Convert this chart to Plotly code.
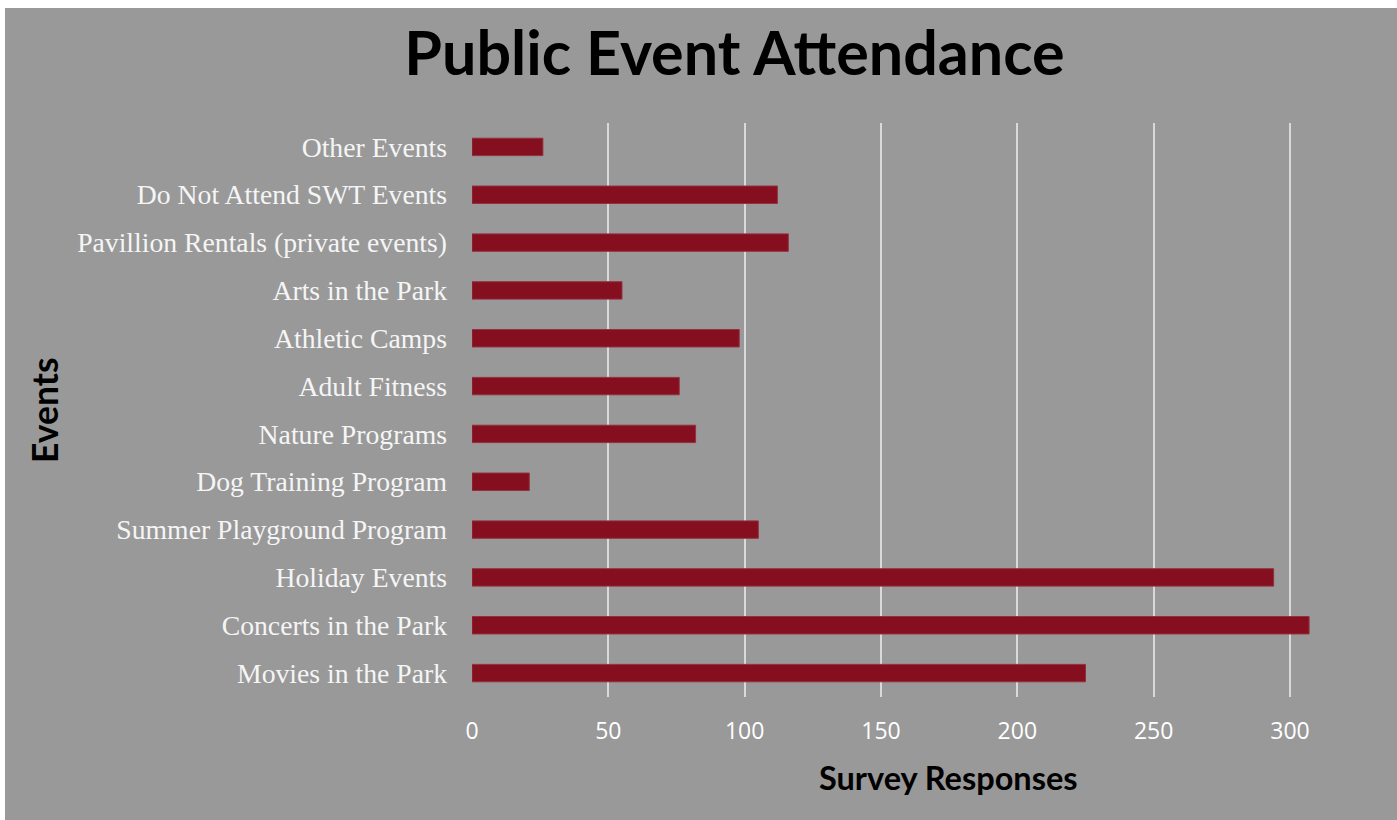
import plotly.graph_objects as go

categories = [
    "Movies in the Park",
    "Concerts in the Park",
    "Holiday Events",
    "Summer Playground Program",
    "Dog Training Program",
    "Nature Programs",
    "Adult Fitness",
    "Athletic Camps",
    "Arts in the Park",
    "Pavillion Rentals (private events)",
    "Do Not Attend SWT Events",
    "Other Events",
]
responses = [225, 307, 294, 105, 21, 82, 76, 98, 55, 116, 112, 26]
x_ticks = [0, 50, 100, 150, 200, 250, 300]

W, H = 1397, 820
L, R, T, B = 472, 77, 123, 123
XMAX = 311
pw = W - L - R
ph = H - T - B

BG = "#999999"
BAR = "#850e1f"

fig = go.Figure(
    go.Bar(
        x=responses,
        y=categories,
        orientation="h",
        marker=dict(color=BAR, line=dict(color="#93303e", width=1)),
        hoverinfo="x+y",
    )
)

def px_x(p):
    return (p - L) / pw

def px_y(p):
    return (H - B - p) / ph

fig.update_layout(
    width=W,
    height=H,
    margin=dict(l=L, r=R, t=T, b=B),
    paper_bgcolor=BG,
    plot_bgcolor=BG,
    bargap=0.636,
    showlegend=False,
    title=dict(
        text="<b>Public Event Attendance</b>",
        font=dict(family="Lato", size=61, color="#000000"),
        x=px_x(734.5), xref="paper", xanchor="center",
        y=1 - 54 / H, yref="container", yanchor="middle",
    ),
    xaxis=dict(
        range=[0, XMAX],
        tickvals=x_ticks,
        ticktext=[str(v) for v in x_ticks],
        showgrid=True,
        gridcolor="#d9d9d9",
        gridwidth=2,
        zeroline=False,
        showline=False,
        ticks="",
        ticklabelstandoff=18,
        tickfont=dict(family="Open Sans", size=23, color="#ffffff"),
        fixedrange=True,
    ),
    yaxis=dict(
        categoryorder="array",
        categoryarray=categories,
        showgrid=False,
        zeroline=False,
        showline=False,
        ticks="",
        ticklabelstandoff=24,
        tickfont=dict(family="Liberation Serif", size=27.7, color="#f5f5f5"),
        fixedrange=True,
    ),
    shapes=[
        dict(type="rect", xref="paper", yref="paper",
             x0=px_x(0), x1=px_x(5), y0=px_y(H), y1=px_y(0),
             fillcolor="#ffffff", line=dict(width=0), layer="above"),
        dict(type="rect", xref="paper", yref="paper",
             x0=px_x(0), x1=px_x(W), y0=px_y(8), y1=px_y(0),
             fillcolor="#ffffff", line=dict(width=0), layer="above"),
    ],
    annotations=[
        dict(text="<b>Survey Responses</b>", xref="paper", yref="paper",
             x=px_x(948), y=px_y(777), xanchor="center", yanchor="middle",
             showarrow=False, font=dict(family="Lato", size=32.5, color="#000000")),
        dict(text="<b>Events</b>", xref="paper", yref="paper",
             x=px_x(44), y=px_y(410), xanchor="center", yanchor="middle",
             textangle=-90, showarrow=False,
             font=dict(family="Lato", size=35.5, color="#000000")),
    ],
)

fig.write_html("out.html")
